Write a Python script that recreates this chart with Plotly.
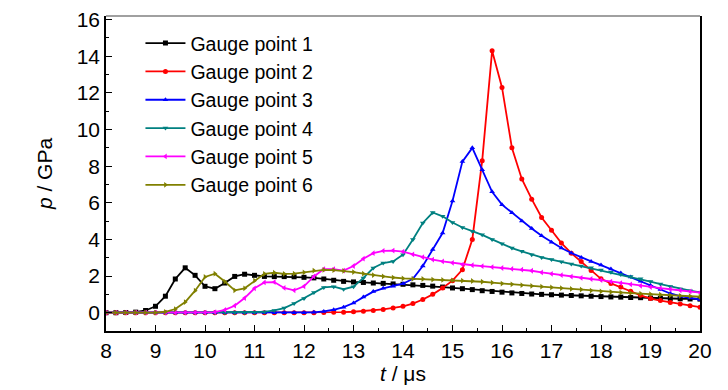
import plotly.graph_objects as go

t = [round(8 + 0.2 * i, 1) for i in range(61)]

p1 = [0, 0, 0.01, 0.03, 0.12, 0.35, 0.9, 1.84, 2.45, 2.04,
      1.44, 1.31, 1.62, 1.98, 2.1, 2.04, 1.98, 1.97, 1.97, 1.96,
      1.93, 1.9, 1.84, 1.77, 1.71, 1.68, 1.65, 1.62, 1.6, 1.57,
      1.55, 1.52, 1.49, 1.45, 1.4, 1.35, 1.31, 1.26, 1.2, 1.16,
      1.12, 1.08, 1.05, 1.02, 1.0, 0.98, 0.96, 0.94, 0.92, 0.9,
      0.88, 0.86, 0.85, 0.83, 0.82, 0.8, 0.79, 0.78, 0.76, 0.75,
      0.74]
p2 = [0, 0, 0, 0, 0, 0, 0, 0, 0, 0,
      0, 0, 0, 0, 0, 0, 0, 0, 0, 0,
      0, 0, 0.01, 0.02, 0.03, 0.05, 0.08, 0.12, 0.18, 0.26,
      0.35, 0.5, 0.72, 1.0, 1.35, 1.75, 2.35, 4.0, 8.3, 14.3,
      12.3, 9.0, 7.3, 6.2, 5.2, 4.5, 3.8, 3.25, 2.8, 2.3,
      1.85, 1.6, 1.4, 1.17, 0.95, 0.77, 0.66, 0.56, 0.47, 0.38,
      0.3]
p3 = [0, 0, 0, 0, 0, 0, 0, 0, 0, 0,
      0, 0, 0, 0, 0, 0, 0, 0, 0, 0,
      0.0, 0.02, 0.07, 0.16, 0.3, 0.53, 0.85, 1.15, 1.33, 1.45,
      1.58, 1.85, 2.55, 3.45, 4.35, 6.1, 8.25, 9.0, 7.8, 6.6,
      5.9, 5.45, 5.0, 4.6, 4.2, 3.85, 3.53, 3.26, 3.02, 2.8,
      2.6, 2.38, 2.17, 1.95, 1.72, 1.5, 1.27, 1.05, 0.9, 0.8,
      0.72]
p4 = [0, 0, 0, 0, 0, 0, 0, 0, 0, 0,
      0, 0, 0, 0, 0, 0.01, 0.04, 0.12, 0.25, 0.5,
      0.78, 1.1, 1.38, 1.42, 1.28, 1.42, 1.9, 2.44, 2.71, 2.8,
      3.17, 4.0, 4.9, 5.47, 5.26, 4.92, 4.65, 4.45, 4.25, 4.0,
      3.77, 3.53, 3.35, 3.17, 3.02, 2.9, 2.78, 2.66, 2.55, 2.45,
      2.33, 2.21, 2.09, 1.97, 1.85, 1.7, 1.56, 1.43, 1.3, 1.2,
      1.11]
p5 = [0, 0, 0, 0, 0, 0, 0, 0, 0, 0,
      0, 0.03, 0.15, 0.38, 0.8, 1.33, 1.65, 1.67, 1.35, 1.22,
      1.44, 1.98, 2.38, 2.38, 2.3, 2.55, 2.95, 3.25, 3.38, 3.39,
      3.33, 3.18, 3.03, 2.9, 2.8, 2.72, 2.63, 2.59, 2.54, 2.49,
      2.44, 2.39, 2.35, 2.29, 2.2, 2.12, 2.05, 1.97, 1.9, 1.84,
      1.78, 1.7, 1.62, 1.54, 1.47, 1.4, 1.34, 1.28, 1.22, 1.16,
      1.1]
p6 = [0, 0, 0, 0, 0, 0, 0.05, 0.2, 0.58, 1.2,
      1.95, 2.13, 1.7, 1.22, 1.33, 1.75, 2.12, 2.18, 2.12, 2.13,
      2.2, 2.3, 2.34, 2.32, 2.28, 2.22, 2.13, 2.05, 1.98, 1.92,
      1.87, 1.85, 1.84, 1.81, 1.79, 1.77, 1.75, 1.73, 1.69, 1.64,
      1.59, 1.55, 1.5, 1.46, 1.42, 1.38, 1.34, 1.3, 1.26, 1.21,
      1.16, 1.13, 1.1, 1.07, 1.04, 1.01, 0.98, 0.95, 0.92, 0.9,
      0.87]

names = ["Gauge point 1", "Gauge point 2", "Gauge point 3",
         "Gauge point 4", "Gauge point 5", "Gauge point 6"]
series = [p1, p2, p3, p4, p5, p6]
colors = ["#000000", "#ff0000", "#0000ff", "#008080", "#ff00ff", "#808000"]
symbols = ["square", "circle", "triangle-up", "triangle-down",
           "triangle-left", "triangle-right"]

fig = go.Figure()
for nm, ys, c, s in zip(names, series, colors, symbols):
    fig.add_trace(go.Scatter(
        x=t, y=ys, name=nm, mode="lines+markers",
        line=dict(color=c, width=1.8),
        marker=dict(color=c, size=5, symbol=s),
    ))

font = "Liberation Sans, Arial, sans-serif"
# the page body adds an 8px margin, so the figure is sized 720x382
fig.update_layout(
    template="none",
    width=720, height=382,
    margin=dict(l=98, r=28, t=8, b=59, autoexpand=False),
    paper_bgcolor="white", plot_bgcolor="white",
    font=dict(family=font, size=21, color="black"),
    showlegend=True,
    legend=dict(x=0.058, y=0.975, xanchor="left", yanchor="top",
                bgcolor="rgba(0,0,0,0)", font=dict(size=19.5),
                itemwidth=40, tracegroupgap=0, borderwidth=0),
    xaxis=dict(range=[8, 20], tickmode="linear", tick0=8, dtick=1,
               ticks="inside", ticklen=6, tickwidth=1.2, tickcolor="black",
               minor=dict(ticks="inside", ticklen=3, dtick=0.5, tickcolor="black",
                          showgrid=False),
               showline=True, linecolor="black", linewidth=1.5, mirror=False,
               showgrid=False, zeroline=False, automargin=False,
               tickfont=dict(size=21),
               title=dict(text="<i>t</i> / μs", font=dict(size=21), standoff=4)),
    yaxis=dict(range=[-1, 16.2], tickmode="array",
               tickvals=[0, 2, 4, 6, 8, 10, 12, 14, 16],
               ticks="inside", ticklen=6, tickwidth=1.2, tickcolor="black",
               minor=dict(ticks="inside", ticklen=3, tickvals=[1, 3, 5, 7, 9, 11, 13, 15],
                          tickcolor="black", showgrid=False),
               showline=True, linecolor="black", linewidth=1.5, mirror=True,
               showgrid=False, zeroline=False, automargin=False,
               tickfont=dict(size=21),
               title=dict(text="<i>p</i> / GPa", font=dict(size=21), standoff=18)),
)
fig.add_shape(type="line", xref="paper", yref="paper", x0=0, x1=1, y0=1, y1=1,
              line=dict(color="#808080", width=1.5))

fig.write_html("out.html")
